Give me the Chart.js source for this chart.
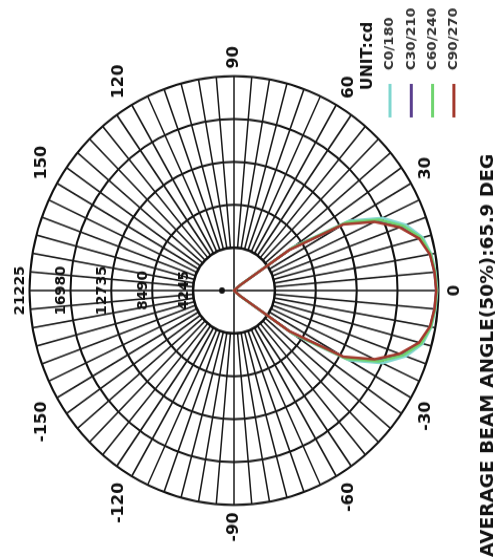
<!DOCTYPE html>
<html><head><meta charset="utf-8">
<script src="https://cdn.jsdelivr.net/npm/chart.js@4"></script>
<style>
html,body{margin:0;padding:0;background:#fff;overflow:hidden;width:499px;height:557px}
#wrap{position:absolute;left:0;top:0;width:531px;height:499px;transform-origin:0 0;transform:translateY(557px) rotate(-90deg) scaleX(1.049);background:#fff}
canvas{display:block}
</style></head>
<body><div id="wrap"><canvas id="c" width="531" height="499"></canvas></div>
<script>
// Angles (degrees), clockwise around the diagram starting at 180
const angles = [180,175,170,165,160,155,150,145,140,135,130,125,120,115,110,105,100,95,
  90,85,80,75,70,65,60,55,50,45,40,35,30,25,20,15,10,5,
  0,-5,-10,-15,-20,-25,-30,-35,-40,-45,-50,-55,-60,-65,-70,-75,-80,-85,
  -90,-95,-100,-105,-110,-115,-120,-125,-130,-135,-140,-145,-150,-155,-160,-165,-170,-175];
const shownAngles = [150,120,90,60,30,0,-30,-60,-90,-120,-150];
const ringValues = [4245,8490,12735,16980,21225];
const seriesNames = ['C0/180','C30/210','C60/240','C90/270'];
const seriesColors = ['#7fd6cf','#5a3f8e','#6fd46f','#a3382c'];
const Z27 = [0,0,0,0,0,0,0,0,0,0,0,0,0,0,0,0,0,0,0,0,0,0,0,0,0,0,0];
const Z26 = [0,0,0,0,0,0,0,0,0,0,0,0,0,0,0,0,0,0,0,0,0,0,0,0,0,0];
// intensity values (cd) for 45,40,...,0,...,-45 degrees
const c0_180  = [150,900,7500,13800,17000,19000,20300,20800,21000,21100,21000,20800,20300,19000,17000,13800,7500,900,150];
const c30_210 = [110,850,7100,13250,16300,18450,20000,20700,20900,21000,20900,20700,20000,18450,16300,13250,7100,850,110];
const c60_240 = [130,880,7300,13500,16600,18700,20150,20750,20950,21050,20950,20750,20150,18700,16600,13500,7300,880,130];
const c90_270 = [100,800,7000,13100,16100,18300,19900,20650,20900,21000,20900,20650,19900,18300,16100,13100,7000,800,100];
const seriesValues = [c0_180, c30_210, c60_240, c90_270];
const titleText = 'AVERAGE BEAM ANGLE(50%):65.9 DEG';
const unitText = 'UNIT:cd';

const decor = {
  id: 'decor',
  beforeDatasetsDraw(chart) {
    const s = chart.scales.r, ctx = chart.ctx;
    const cx = s.xCenter, cy = s.yCenter;
    const rIn = s.getDistanceFromCenterForValue(ringValues[0]);
    ctx.save();
    ctx.beginPath(); ctx.arc(cx, cy, rIn, 0, Math.PI * 2);
    ctx.fillStyle = '#fff'; ctx.fill();
    ctx.lineWidth = 2.5; ctx.strokeStyle = '#111'; ctx.stroke();
    ctx.beginPath();
    ctx.moveTo(cx - rIn, cy); ctx.lineTo(cx + rIn, cy);
    ctx.moveTo(cx, cy - rIn); ctx.lineTo(cx, cy + rIn);
    ctx.lineWidth = 1.6; ctx.stroke();
    ctx.beginPath(); ctx.arc(cx, cy - 12, 3, 0, Math.PI * 2); ctx.fillStyle = '#111'; ctx.fill();
    ctx.fillStyle = '#111';
    ctx.font = 'bold 13.5px "DejaVu Sans"';
    ctx.textAlign = 'center'; ctx.textBaseline = 'middle';
    ringValues.forEach(v => {
      const d = s.getDistanceFromCenterForValue(v);
      ctx.fillText(String(v), cx, cy - d - 9);
    });
    ctx.restore();
  },
  afterDraw(chart) {
    const ctx = chart.ctx;
    ctx.save();
    ctx.fillStyle = '#111';
    ctx.textBaseline = 'middle'; ctx.textAlign = 'left';
    ctx.font = 'bold 15px "DejaVu Sans"';
    ctx.fillText(unitText, 445, 368);
    ctx.font = 'bold 13px "DejaVu Sans"';
    chart.data.datasets.forEach((ds, i) => {
      const y = 390 + i * 21.3;
      ctx.beginPath(); ctx.moveTo(419, y); ctx.lineTo(451, y);
      ctx.strokeStyle = ds.borderColor; ctx.lineWidth = 3; ctx.stroke();
      ctx.fillStyle = '#333';
      ctx.fillText(ds.label, 464, y);
    });
    ctx.restore();
  }
};

new Chart(document.getElementById('c'), {
  type: 'radar',
  data: {
    labels: angles,
    datasets: seriesNames.map((n, i) => ({
      label: n,
      data: Z27.concat(seriesValues[i], Z26),
      borderColor: seriesColors[i],
      backgroundColor: 'rgba(0,0,0,0)',
      borderWidth: 2.5,
      fill: false,
      pointRadius: 0,
      tension: 0,
      order: 3 - i
    }))
  },
  options: {
    responsive: false,
    animation: false,
    layout: { padding: { left: 0, right: 29, top: 4, bottom: 0 } },
    plugins: {
      legend: { display: false },
      tooltip: { enabled: false },
      title: {
        display: true, text: titleText, position: 'bottom', align: 'start',
        color: '#111', font: { family: 'DejaVu Sans', size: 17.7, weight: 'bold' },
        padding: { top: 13, bottom: 0 }
      }
    },
    scales: {
      r: {
        min: 0, max: 21225,
        ticks: { stepSize: 4245, display: false },
        grid: { circular: true, color: '#111', lineWidth: 2 },
        angleLines: { color: '#1a1a1a', lineWidth: 1.6 },
        pointLabels: {
          display: true, padding: 7, color: '#111',
          font: { family: 'DejaVu Sans', size: 15.5, weight: 'bold' },
          callback: (label) => shownAngles.includes(label) ? String(label) : ''
        }
      }
    }
  },
  plugins: [decor]
});
</script>
</body></html>
